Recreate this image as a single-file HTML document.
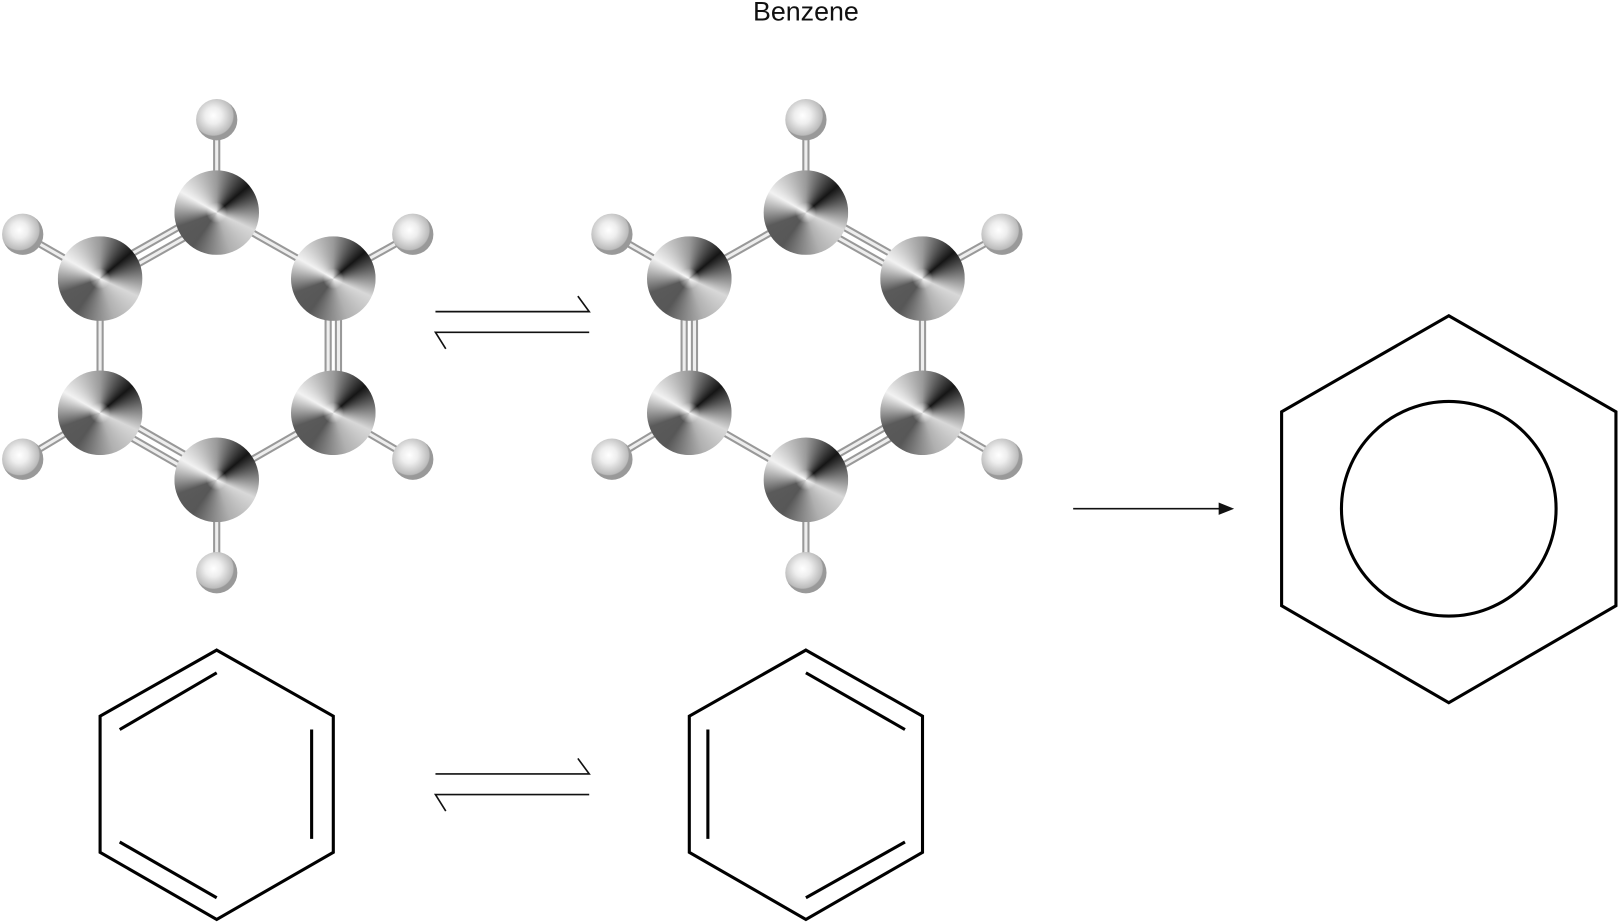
<!DOCTYPE html>
<html><head><style>
html,body{margin:0;padding:0;background:#fff;width:1618px;height:922px;overflow:hidden}
#w{position:absolute;left:0;top:0;width:1568px;height:894px;transform:scale(1.03189);transform-origin:0 0}
svg{position:absolute;left:0;top:0}
.c{position:absolute;width:82px;height:82px;border-radius:50%;margin:-41px 0 0 -41px;
background:radial-gradient(circle at 50% 50%,rgba(255,255,255,.8) 0,rgba(255,255,255,0) 10px),conic-gradient(from 0deg,#9a9a9a 0deg,#151515 50deg,#d8d8d8 115deg,#b0b0b0 160deg,#575757 215deg,#5a5a5a 250deg,#f2f2f2 300deg,#9a9a9a 360deg)}
.h{position:absolute;width:40px;height:40px;border-radius:50%;margin:-20px 0 0 -20px;
background:radial-gradient(circle at 42% 40%,#fff 0,#eee 8px,#bbb 19px,#999 20px)}
.t{position:absolute;left:0;width:1568px;top:-4px;text-align:center;font:26px "Liberation Sans",sans-serif;color:#111;padding-left:0;}
</style></head><body><div id="w">
<div class="t" style="left:-3px">Benzene</div>
<svg width="1568" height="894" viewBox="0 0 1568 894">
<g id="m1" stroke-linecap="butt">
<g stroke="#999" stroke-width="7">
<line x1="210" y1="206" x2="210" y2="116"/><line x1="97" y1="270" x2="22" y2="227"/><line x1="323" y1="270" x2="400" y2="227"/>
<line x1="97" y1="400" x2="22" y2="445"/><line x1="323" y1="400" x2="400" y2="445"/><line x1="210" y1="465" x2="210" y2="555"/>
<line x1="210" y1="206" x2="323" y2="270"/><line x1="97" y1="270" x2="97" y2="400"/><line x1="323" y1="400" x2="210" y2="465"/>
<line x1="207" y1="201" x2="94" y2="265"/><line x1="213" y1="211" x2="100" y2="275"/>
<line x1="318" y1="270" x2="318" y2="400"/><line x1="328" y1="270" x2="328" y2="400"/>
<line x1="100" y1="395" x2="213" y2="460"/><line x1="94" y1="405" x2="207" y2="470"/>
</g>
<g stroke="#eee" stroke-width="3">
<line x1="210" y1="206" x2="210" y2="116"/><line x1="97" y1="270" x2="22" y2="227"/><line x1="323" y1="270" x2="400" y2="227"/>
<line x1="97" y1="400" x2="22" y2="445"/><line x1="323" y1="400" x2="400" y2="445"/><line x1="210" y1="465" x2="210" y2="555"/>
<line x1="210" y1="206" x2="323" y2="270"/><line x1="97" y1="270" x2="97" y2="400"/><line x1="323" y1="400" x2="210" y2="465"/>
<line x1="207" y1="201" x2="94" y2="265"/><line x1="213" y1="211" x2="100" y2="275"/>
<line x1="318" y1="270" x2="318" y2="400"/><line x1="328" y1="270" x2="328" y2="400"/>
<line x1="100" y1="395" x2="213" y2="460"/><line x1="94" y1="405" x2="207" y2="470"/>
</g></g>
<g transform="translate(571,0)">
<g stroke="#999" stroke-width="7">
<line x1="210" y1="206" x2="210" y2="116"/><line x1="97" y1="270" x2="22" y2="227"/><line x1="323" y1="270" x2="400" y2="227"/>
<line x1="97" y1="400" x2="22" y2="445"/><line x1="323" y1="400" x2="400" y2="445"/><line x1="210" y1="465" x2="210" y2="555"/>
<line x1="210" y1="206" x2="97" y2="270"/><line x1="323" y1="270" x2="323" y2="400"/><line x1="97" y1="400" x2="210" y2="465"/>
<line x1="213" y1="201" x2="326" y2="265"/><line x1="207" y1="211" x2="320" y2="275"/>
<line x1="92" y1="270" x2="92" y2="400"/><line x1="102" y1="270" x2="102" y2="400"/>
<line x1="320" y1="395" x2="207" y2="460"/><line x1="326" y1="405" x2="213" y2="470"/>
</g>
<g stroke="#eee" stroke-width="3">
<line x1="210" y1="206" x2="210" y2="116"/><line x1="97" y1="270" x2="22" y2="227"/><line x1="323" y1="270" x2="400" y2="227"/>
<line x1="97" y1="400" x2="22" y2="445"/><line x1="323" y1="400" x2="400" y2="445"/><line x1="210" y1="465" x2="210" y2="555"/>
<line x1="210" y1="206" x2="97" y2="270"/><line x1="323" y1="270" x2="323" y2="400"/><line x1="97" y1="400" x2="210" y2="465"/>
<line x1="213" y1="201" x2="326" y2="265"/><line x1="207" y1="211" x2="320" y2="275"/>
<line x1="92" y1="270" x2="92" y2="400"/><line x1="102" y1="270" x2="102" y2="400"/>
<line x1="320" y1="395" x2="207" y2="460"/><line x1="326" y1="405" x2="213" y2="470"/>
</g></g>
<g fill="none" stroke="#111" stroke-width="1.6">
<path d="M422 302H571L560 287"/><path d="M571 322H422L432 338"/>
<path d="M422 750H571L560 735"/><path d="M571 770H422L432 786"/>
<line x1="1040" y1="493" x2="1185" y2="493"/>
</g>
<path d="M1196 493L1181 487L1181 499Z" fill="#111"/>
<g fill="none" stroke="#000" stroke-width="3">
<path d="M1404 306L1566 399V587L1404 681L1242 587V399Z"/>
<circle cx="1404" cy="493" r="104"/>
<path d="M210 630L323 694V826L210 891L97 826V694Z"/>
<line x1="116" y1="707" x2="210" y2="652"/><line x1="302" y1="707" x2="302" y2="813"/><line x1="116" y1="816" x2="210" y2="870"/>
<path d="M781 630L894 694V826L781 891L668 826V694Z"/>
<line x1="781" y1="652" x2="877" y2="707"/><line x1="686" y1="707" x2="686" y2="813"/><line x1="781" y1="870" x2="877" y2="816"/>
</g>
</svg>
<div class="h" style="left:210px;top:116px"></div><div class="h" style="left:22px;top:227px"></div><div class="h" style="left:400px;top:227px"></div>
<div class="h" style="left:22px;top:445px"></div><div class="h" style="left:400px;top:445px"></div><div class="h" style="left:210px;top:555px"></div>
<div class="c" style="left:210px;top:206px"></div><div class="c" style="left:97px;top:270px"></div><div class="c" style="left:323px;top:270px"></div>
<div class="c" style="left:97px;top:400px"></div><div class="c" style="left:323px;top:400px"></div><div class="c" style="left:210px;top:465px"></div>
<div class="h" style="left:781px;top:116px"></div><div class="h" style="left:593px;top:227px"></div><div class="h" style="left:971px;top:227px"></div>
<div class="h" style="left:593px;top:445px"></div><div class="h" style="left:971px;top:445px"></div><div class="h" style="left:781px;top:555px"></div>
<div class="c" style="left:781px;top:206px"></div><div class="c" style="left:668px;top:270px"></div><div class="c" style="left:894px;top:270px"></div>
<div class="c" style="left:668px;top:400px"></div><div class="c" style="left:894px;top:400px"></div><div class="c" style="left:781px;top:465px"></div>
</div></body></html>
